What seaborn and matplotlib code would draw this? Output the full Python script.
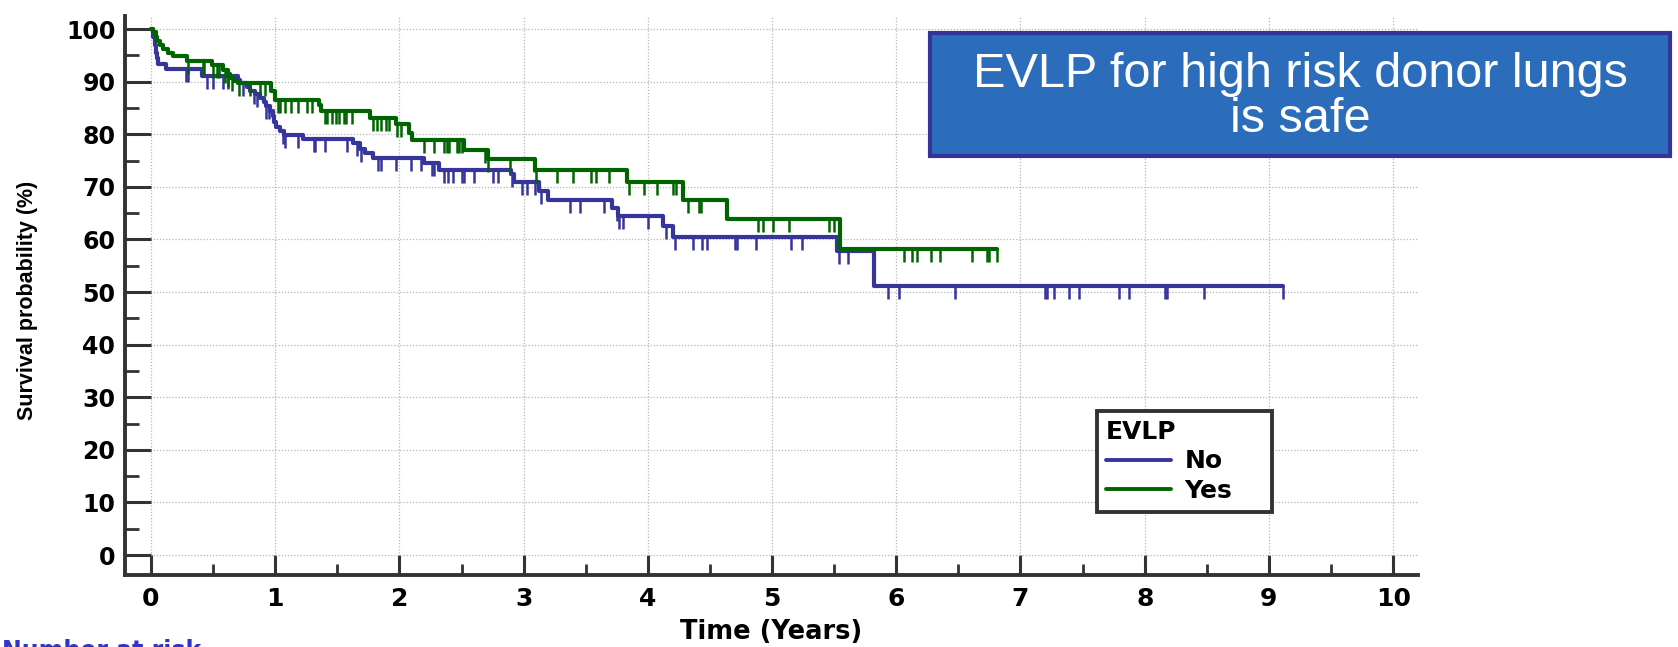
import numpy as np
import pandas as pd
import matplotlib
matplotlib.use("Agg")
import matplotlib.pyplot as plt
import seaborn as sns
from matplotlib.path import Path
from matplotlib.patches import Rectangle
from matplotlib.lines import Line2D

# ---------------- data ----------------
groups = ["No", "Yes"]
group_colors = {"No": "#35359B", "Yes": "#006400"}

no_event_t = [0.0, 0.02, 0.03, 0.04, 0.05, 0.06, 0.12, 0.41, 0.70, 0.72, 0.77, 0.80,
              0.84, 0.88, 0.91, 0.93, 0.96, 0.98, 0.99, 1.01, 1.04, 1.07, 1.22, 1.63,
              1.68, 1.72, 1.79, 2.20, 2.32, 2.90, 2.92, 3.12, 3.20, 3.71, 3.76, 4.12,
              4.20, 5.52, 5.82]
no_surv = [100, 98.5, 97.0, 95.5, 94.5, 93.4, 92.5, 91.1, 90.4, 89.7, 89.0, 88.3,
           87.6, 86.9, 86.2, 85.4, 84.5, 83.4, 82.3, 81.3, 80.6, 79.8, 79.2, 78.3,
           77.3, 76.4, 75.5, 74.6, 73.3, 72.4, 71.0, 69.3, 67.6, 66.0, 64.4, 62.5,
           60.5, 57.8, 51.2]
no_end = 9.11
no_censor = [0.28, 0.30, 0.45, 0.50, 0.58, 0.62, 0.74, 0.83, 0.85, 0.93, 0.95, 1.06,
             1.08, 1.18, 1.31, 1.32, 1.40, 1.58, 1.66, 1.69, 1.83, 1.85, 1.97, 2.09,
             2.17, 2.26, 2.28, 2.36, 2.39, 2.43, 2.50, 2.52, 2.60, 2.75, 2.79, 2.91,
             2.99, 3.03, 3.09, 3.14, 3.37, 3.45, 3.65, 3.75, 3.77, 3.80, 4.00, 4.15,
             4.22, 4.36, 4.44, 4.48, 4.70, 4.72, 4.87, 5.15, 5.24, 5.54, 5.61, 5.93,
             6.02, 6.47, 7.20, 7.21, 7.27, 7.39, 7.47, 7.79, 7.87, 8.16, 8.18, 8.48,
             9.11]

yes_event_t = [0.0, 0.02, 0.04, 0.05, 0.07, 0.10, 0.14, 0.18, 0.29, 0.49, 0.58, 0.62,
               0.64, 0.67, 0.70, 0.97, 1.00, 1.35, 1.37, 1.76, 1.97, 2.08, 2.10, 2.52,
               2.71, 3.09, 3.83, 4.28, 4.64, 5.55]
yes_surv = [100, 99.4, 98.6, 97.7, 97.0, 96.2, 95.5, 94.8, 94.0, 93.2, 92.3, 91.4,
            90.7, 90.2, 89.7, 88.3, 86.6, 85.6, 84.5, 83.1, 81.9, 80.3, 79.0, 77.1,
            75.4, 73.3, 71.0, 67.6, 63.9, 58.1]
yes_end = 6.81
yes_censor = [0.30, 0.42, 0.43, 0.50, 0.53, 0.55, 0.60, 0.62, 0.65, 0.71, 0.80, 0.88,
              0.92, 1.02, 1.04, 1.08, 1.13, 1.18, 1.26, 1.30, 1.40, 1.42, 1.46, 1.49,
              1.51, 1.55, 1.57, 1.62, 1.79, 1.82, 1.85, 1.89, 1.92, 1.98, 2.01, 2.20,
              2.28, 2.36, 2.38, 2.40, 2.46, 2.48, 2.50, 2.69, 2.71, 2.89, 3.08, 3.10,
              3.27, 3.40, 3.54, 3.58, 3.69, 3.85, 3.97, 4.07, 4.20, 4.23, 4.32, 4.41,
              4.43, 4.89, 4.93, 5.01, 5.14, 5.46, 5.50, 6.06, 6.13, 6.17, 6.28, 6.35,
              6.61, 6.73, 6.75, 6.81]

x_ticks = list(range(0, 11))
y_ticks = list(range(0, 101, 10))
title_text = "EVLP for high risk donor lungs\nis safe"
x_label = "Time (Years)"
y_label = "Survival probability (%)"
legend_title = "EVLP"
footer_text = "Number at risk"

# ---------------- tables ----------------
curves = {
    "No": (no_event_t, no_surv, no_end, no_censor),
    "Yes": (yes_event_t, yes_surv, yes_end, yes_censor),
}
step_frames, cens_frames = [], []
for g, (t, s, end, cens) in curves.items():
    step_frames.append(pd.DataFrame({"t": list(t) + [end], "S": list(s) + [s[-1]], "EVLP": g}))
    idx = np.searchsorted(np.asarray(t), np.asarray(cens), side="right") - 1
    cens_frames.append(pd.DataFrame({"t": cens, "S": np.asarray(s)[idx], "EVLP": g}))
steps_df = pd.concat(step_frames, ignore_index=True)
cens_df = pd.concat(cens_frames, ignore_index=True)

# ---------------- figure ----------------
sns.set_theme(style="white")
plt.rcParams["font.family"] = ["DejaVu Sans"]
plt.rcParams["text.color"] = "black"
plt.rcParams["axes.labelcolor"] = "black"
plt.rcParams["xtick.color"] = "black"
plt.rcParams["ytick.color"] = "black"

W, H = 1678, 647
fig = plt.figure(figsize=(W / 100, H / 100), dpi=100)
ax_left, ax_right, ax_bottom, ax_top = 125, 1418, 575, 16
ax = fig.add_axes([ax_left / W, 1 - ax_bottom / H, (ax_right - ax_left) / W, (ax_bottom - ax_top) / H])

for g in groups:
    sub = steps_df[steps_df["EVLP"] == g]
    sns.lineplot(data=sub, x="t", y="S", color=group_colors[g], drawstyle="steps-post",
                 estimator=None, sort=False, linewidth=3.0, legend=False, ax=ax, zorder=3)

tick_marker = Path([(0, 0), (0, -1)], [Path.MOVETO, Path.LINETO])
for g in groups:
    sub = cens_df[cens_df["EVLP"] == g]
    sns.scatterplot(data=sub, x="t", y="S", marker=tick_marker, s=330, color=group_colors[g],
                    edgecolor=group_colors[g], linewidth=1.8, legend=False, ax=ax, zorder=4)

ax.set_xlim(-0.209, 10.2)
ax.set_ylim(-3.8, 102.5)
ax.set_xticks(x_ticks)
ax.set_xticks(np.arange(0.5, 10, 1.0), minor=True)
ax.set_yticks(y_ticks)
ax.set_yticks(np.arange(5, 100, 10), minor=True)

ax.grid(True, which="major", color="#B5B5B5", linestyle=(0, (1, 1.5)), linewidth=0.9)
ax.set_axisbelow(True)

for side in ["top", "right"]:
    ax.spines[side].set_visible(False)
for side in ["left", "bottom"]:
    ax.spines[side].set_linewidth(2.8)
    ax.spines[side].set_color("#333333")

ax.tick_params(axis="both", which="both", direction="in", color="#333333",
               bottom=True, left=True, top=False, right=False)
ax.tick_params(axis="x", which="major", length=14.4, width=2.2, pad=9, labelsize=18)
ax.tick_params(axis="x", which="minor", length=8, width=2.0)
ax.tick_params(axis="y", which="major", length=18.7, width=2.2, pad=7, labelsize=17)
ax.tick_params(axis="y", which="minor", length=10, width=2.0)
plt.setp(ax.get_xticklabels() + ax.get_yticklabels(), fontweight="bold", color="black")

ax.set_xlabel(x_label, fontsize=18.5, fontweight="bold", color="black")
ax.set_ylabel(y_label, fontsize=15.5, fontweight="bold", color="black", family="Liberation Sans")
ax_w = ax_right - ax_left
ax_h = ax_bottom - ax_top
ax.xaxis.set_label_coords((771 - ax_left) / ax_w, -(619 - ax_bottom) / ax_h)
ax.yaxis.set_label_coords((38 - ax_left) / ax_w, (ax_bottom - 300) / ax_h)

# legend
handles = [Line2D([0], [0], color=group_colors[g], lw=2.8) for g in groups]
leg = ax.legend(handles, groups, title=legend_title, loc="upper left",
                bbox_to_anchor=(1097 / W, 1 - 509 / H, 175 / W, 98 / H),
                bbox_transform=fig.transFigure, mode="expand",
                frameon=True, fancybox=False, edgecolor="#333333", framealpha=1,
                prop={"weight": "bold", "size": 18},
                title_fontproperties={"weight": "bold", "size": 18},
                alignment="left", handlelength=2.6, handletextpad=0.55,
                labelspacing=0.22, borderpad=0.35, borderaxespad=0)
leg.get_frame().set_linewidth(2.8)
for txt in leg.get_texts():
    txt.set_color("black")
leg.get_title().set_color("black")
leg.set_zorder(10)

# title box
box_l, box_r, box_t, box_b = 930, 1670, 32.7, 155.7
fig.add_artist(Rectangle((box_l / W, 1 - box_b / H), (box_r - box_l) / W, (box_b - box_t) / H,
                         transform=fig.transFigure, facecolor="#2C6DBB", edgecolor="#333399",
                         linewidth=3.0, zorder=5))
fig.text((box_l + box_r) / 2 / W, 1 - 97 / H, title_text, ha="center", va="center",
         color="white", fontsize=35, family="Liberation Sans", linespacing=1.0, zorder=6)

# caption cropped at the bottom edge, as in the reference
fig.text(2 / W, 1 - 639 / H, footer_text, ha="left", va="top", color="#3333CC",
         fontsize=17, fontweight="bold")

fig.savefig("out.png", dpi=100)
